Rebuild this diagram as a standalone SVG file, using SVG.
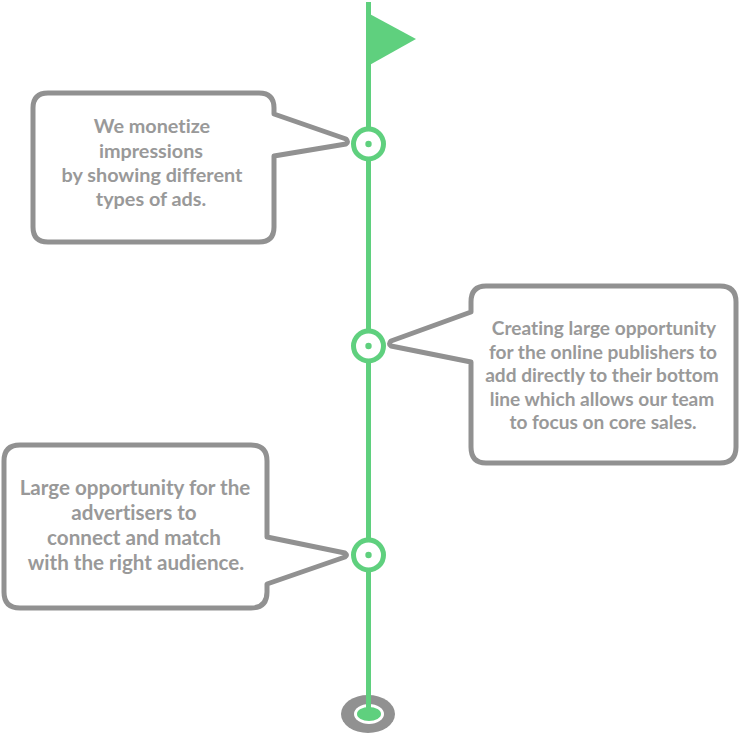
<svg xmlns="http://www.w3.org/2000/svg" width="740" height="735" viewBox="0 0 740 735">
<style>
.b{fill:#fff;stroke:#919191;stroke-width:5;stroke-linejoin:round}
.t{font-family:"Lato","Open Sans",sans-serif;font-weight:700;font-size:19.1px;fill:#999;text-anchor:middle;font-variant-ligatures:none}
.m{font-size:19.8px}
.l{font-size:20.6px}
.r{fill:#fff;stroke:#5fd07e;stroke-width:5}
.d{fill:#5fd07e}
</style>
<rect width="740" height="735" fill="#fff"/>
<g id="connectors">
<ellipse cx="368" cy="714" rx="27" ry="19" fill="#919191"/>
<ellipse cx="369" cy="714" rx="15" ry="10" fill="#fff"/>
<ellipse cx="369" cy="714" rx="12" ry="7" class="d"/>
<line x1="368.5" y1="2" x2="368.5" y2="712" stroke="#5fd07e" stroke-width="5"/>
</g>
<g id="flag"><polygon points="366,12 416,39 366,67" class="d"/></g>
<g id="marker-1"><circle cx="368.5" cy="144" r="15" class="r"/><circle cx="368.5" cy="144" r="3.2" class="d"/></g>
<g id="marker-2"><circle cx="368.5" cy="346" r="15" class="r"/><circle cx="368.5" cy="346" r="3.2" class="d"/></g>
<g id="marker-3"><circle cx="368.5" cy="555" r="15" class="r"/><circle cx="368.5" cy="555" r="3.2" class="d"/></g>
<g id="bubble-1">
<path class="b" d="M48 93H259Q274 93 274 108V114L346 139Q349 142 346 144L274 156V227Q274 242 259 242H48Q33 242 33 227V108Q33 93 48 93Z"/>
<text class="t m" x="152" y="133">We monetize</text>
<text class="t m" x="151" y="158">impressions</text>
<text class="t m" x="152" y="182">by showing different</text>
<text class="t m" x="151" y="206">types of ads.</text>
</g>
<g id="bubble-2">
<path class="b" d="M486 286H720Q736 286 736 302V447Q736 463 720 463H486Q471 463 471 447V362L391 346Q388 344 391 341L471 312V302Q471 286 486 286Z"/>
<text class="t" x="604" y="335">Creating large opportunity</text>
<text class="t" x="603" y="359">for the online publishers to</text>
<text class="t" x="602" y="382">add directly to their bottom</text>
<text class="t" x="602" y="406">line which allows our team</text>
<text class="t" x="603" y="429">to focus on core sales.</text>
</g>
<g id="bubble-3">
<path class="b" d="M20 445H251Q267 445 267 461V537L345 553Q348 555 345 557L267 584V592Q267 608 251 608H20Q4 608 4 592V461Q4 445 20 445Z"/>
<text class="t l" x="135" y="495">Large opportunity for the</text>
<text class="t l" x="134" y="520">advertisers to</text>
<text class="t l" x="134" y="545">connect and match</text>
<text class="t l" x="136" y="570">with the right audience.</text>
</g>
</svg>
